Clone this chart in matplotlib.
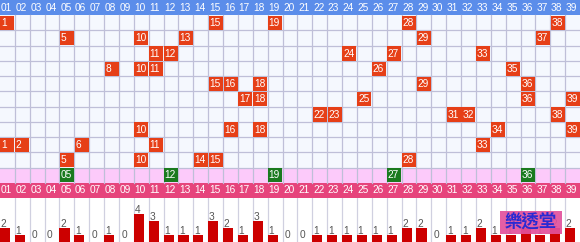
import matplotlib
matplotlib.use("Agg")
import matplotlib.pyplot as plt
from matplotlib.patches import Rectangle

numbers = [f"{i:02d}" for i in range(1, 40)]

draws = [
    [1, 15, 19, 28, 38],
    [5, 10, 13, 29, 37],
    [11, 12, 24, 27, 33],
    [8, 10, 11, 26, 35],
    [15, 16, 18, 29, 36],
    [17, 18, 25, 36, 39],
    [22, 23, 31, 32, 38],
    [10, 16, 18, 34, 39],
    [1, 2, 6, 11, 33],
    [5, 10, 14, 15, 28],
]
special = [5, 12, 19, 27, 36]

counts = [2, 1, 0, 0, 2, 1, 0, 1, 0, 4, 3, 1, 1, 1, 3, 2, 1, 3, 1, 0,
          0, 1, 1, 1, 1, 1, 1, 2, 2, 0, 1, 1, 2, 1, 1, 2, 1, 2, 2]

FONT = ["Liberation Sans", "DejaVu Sans"]
HEAD_BLUE = "#5b8dea"
CELL_BG = "#f5f8fe"
GRID = "#bfbfd8"
RED = "#e63f17"
PINK = "#fccafa"
GREEN = "#1a7a1e"
HEAD_PINK = "#e6447c"
BAR = "#cc0000"

W, H = 580, 242
fig = plt.figure(figsize=(W / 100, H / 100), dpi=100)
fig.patch.set_facecolor("white")

top_h = 198
ax = fig.add_axes([0, (H - top_h) / H, 1, top_h / H])
ax.set_xlim(0, 39)
ax.set_ylim(13, 0)
ax.axis("off")

n_rows = len(draws)
# backgrounds
ax.add_patch(Rectangle((0, 0), 39, 1, facecolor=HEAD_BLUE, edgecolor="none"))
ax.add_patch(Rectangle((0, 1), 39, n_rows, facecolor=CELL_BG, edgecolor="none"))
ax.add_patch(Rectangle((0, 1 + n_rows), 39, 1, facecolor=PINK, edgecolor="none"))
ax.add_patch(Rectangle((0, 2 + n_rows), 39, 1, facecolor=HEAD_PINK, edgecolor="none"))

# grid
for c in range(1, 39):
    ax.plot([c, c], [1, 2 + n_rows], color=GRID, lw=0.9, zorder=1)
for r in range(2, 2 + n_rows):
    ax.plot([0, 39], [r, r], color=GRID, lw=0.9, zorder=1)

# headers
for i, lab in enumerate(numbers):
    ax.text(i + 0.05, 0.5, lab, color="white", fontsize=7.3, family=FONT,
            va="center", ha="left", zorder=3)
    ax.text(i + 0.05, 2.5 + n_rows, lab, color="white", fontsize=7.3, family=FONT,
            va="center", ha="left", zorder=3)

# draws
for r, row in enumerate(draws):
    y = 1 + r
    for n in row:
        x = n - 1
        ax.add_patch(Rectangle((x + 0.03, y + 0.04), 0.94, 0.94, facecolor=RED,
                               edgecolor="none", zorder=2))
        ax.text(x + 0.07, y + 0.52, str(n), color="white", fontsize=7.3, family=FONT,
                va="center", ha="left", zorder=3)

# special row
ys = 1 + n_rows
for n in special:
    x = n - 1
    ax.add_patch(Rectangle((x + 0.03, ys + 0.04), 0.94, 0.94, facecolor=GREEN,
                           edgecolor="none", zorder=2))
    ax.text(x + 0.07, ys + 0.52, f"{n:02d}", color="white", fontsize=7.3, family=FONT,
            va="center", ha="left", zorder=3)

# bar area
bh = H - top_h
ax2 = fig.add_axes([0, 0, 1, bh / H])
ax2.set_xlim(0, 39)
ax2.set_ylim(0, bh / 7.0)
ax2.axis("off")
for c in range(1, 39):
    ax2.plot([c, c], [0, bh / 7.0], color="#d0d0e0", lw=0.9, zorder=1)
xs = list(range(39))
ax2.bar(xs, counts, width=0.68, align="edge", color=BAR, zorder=2)
for x, v in zip(xs, counts):
    if v > 0:
        ax2.text(x + 0.05, v + 0.12, str(v), color="#555555", fontsize=7.3,
                 family=FONT, va="baseline", ha="left", zorder=3)
    else:
        ax2.text(x + 0.15, 0.55, str(v), color="#555555", fontsize=7.3,
                 family=FONT, va="baseline", ha="left", zorder=3)

# watermark
box = Rectangle((500 / W, (H - 234) / H), 62 / W, 23 / H, transform=fig.transFigure,
                facecolor="#e2509c", alpha=0.92, edgecolor="none", zorder=10)
fig.add_artist(box)
fig.text(531 / W, (H - 222) / H, "樂透堂", color="#2a2ad2", fontsize=12.5,
         weight="bold", family=["Noto Sans CJK TC", "DejaVu Sans"],
         ha="center", va="center", zorder=11)

fig.savefig("out.png", dpi=100, facecolor="white")
